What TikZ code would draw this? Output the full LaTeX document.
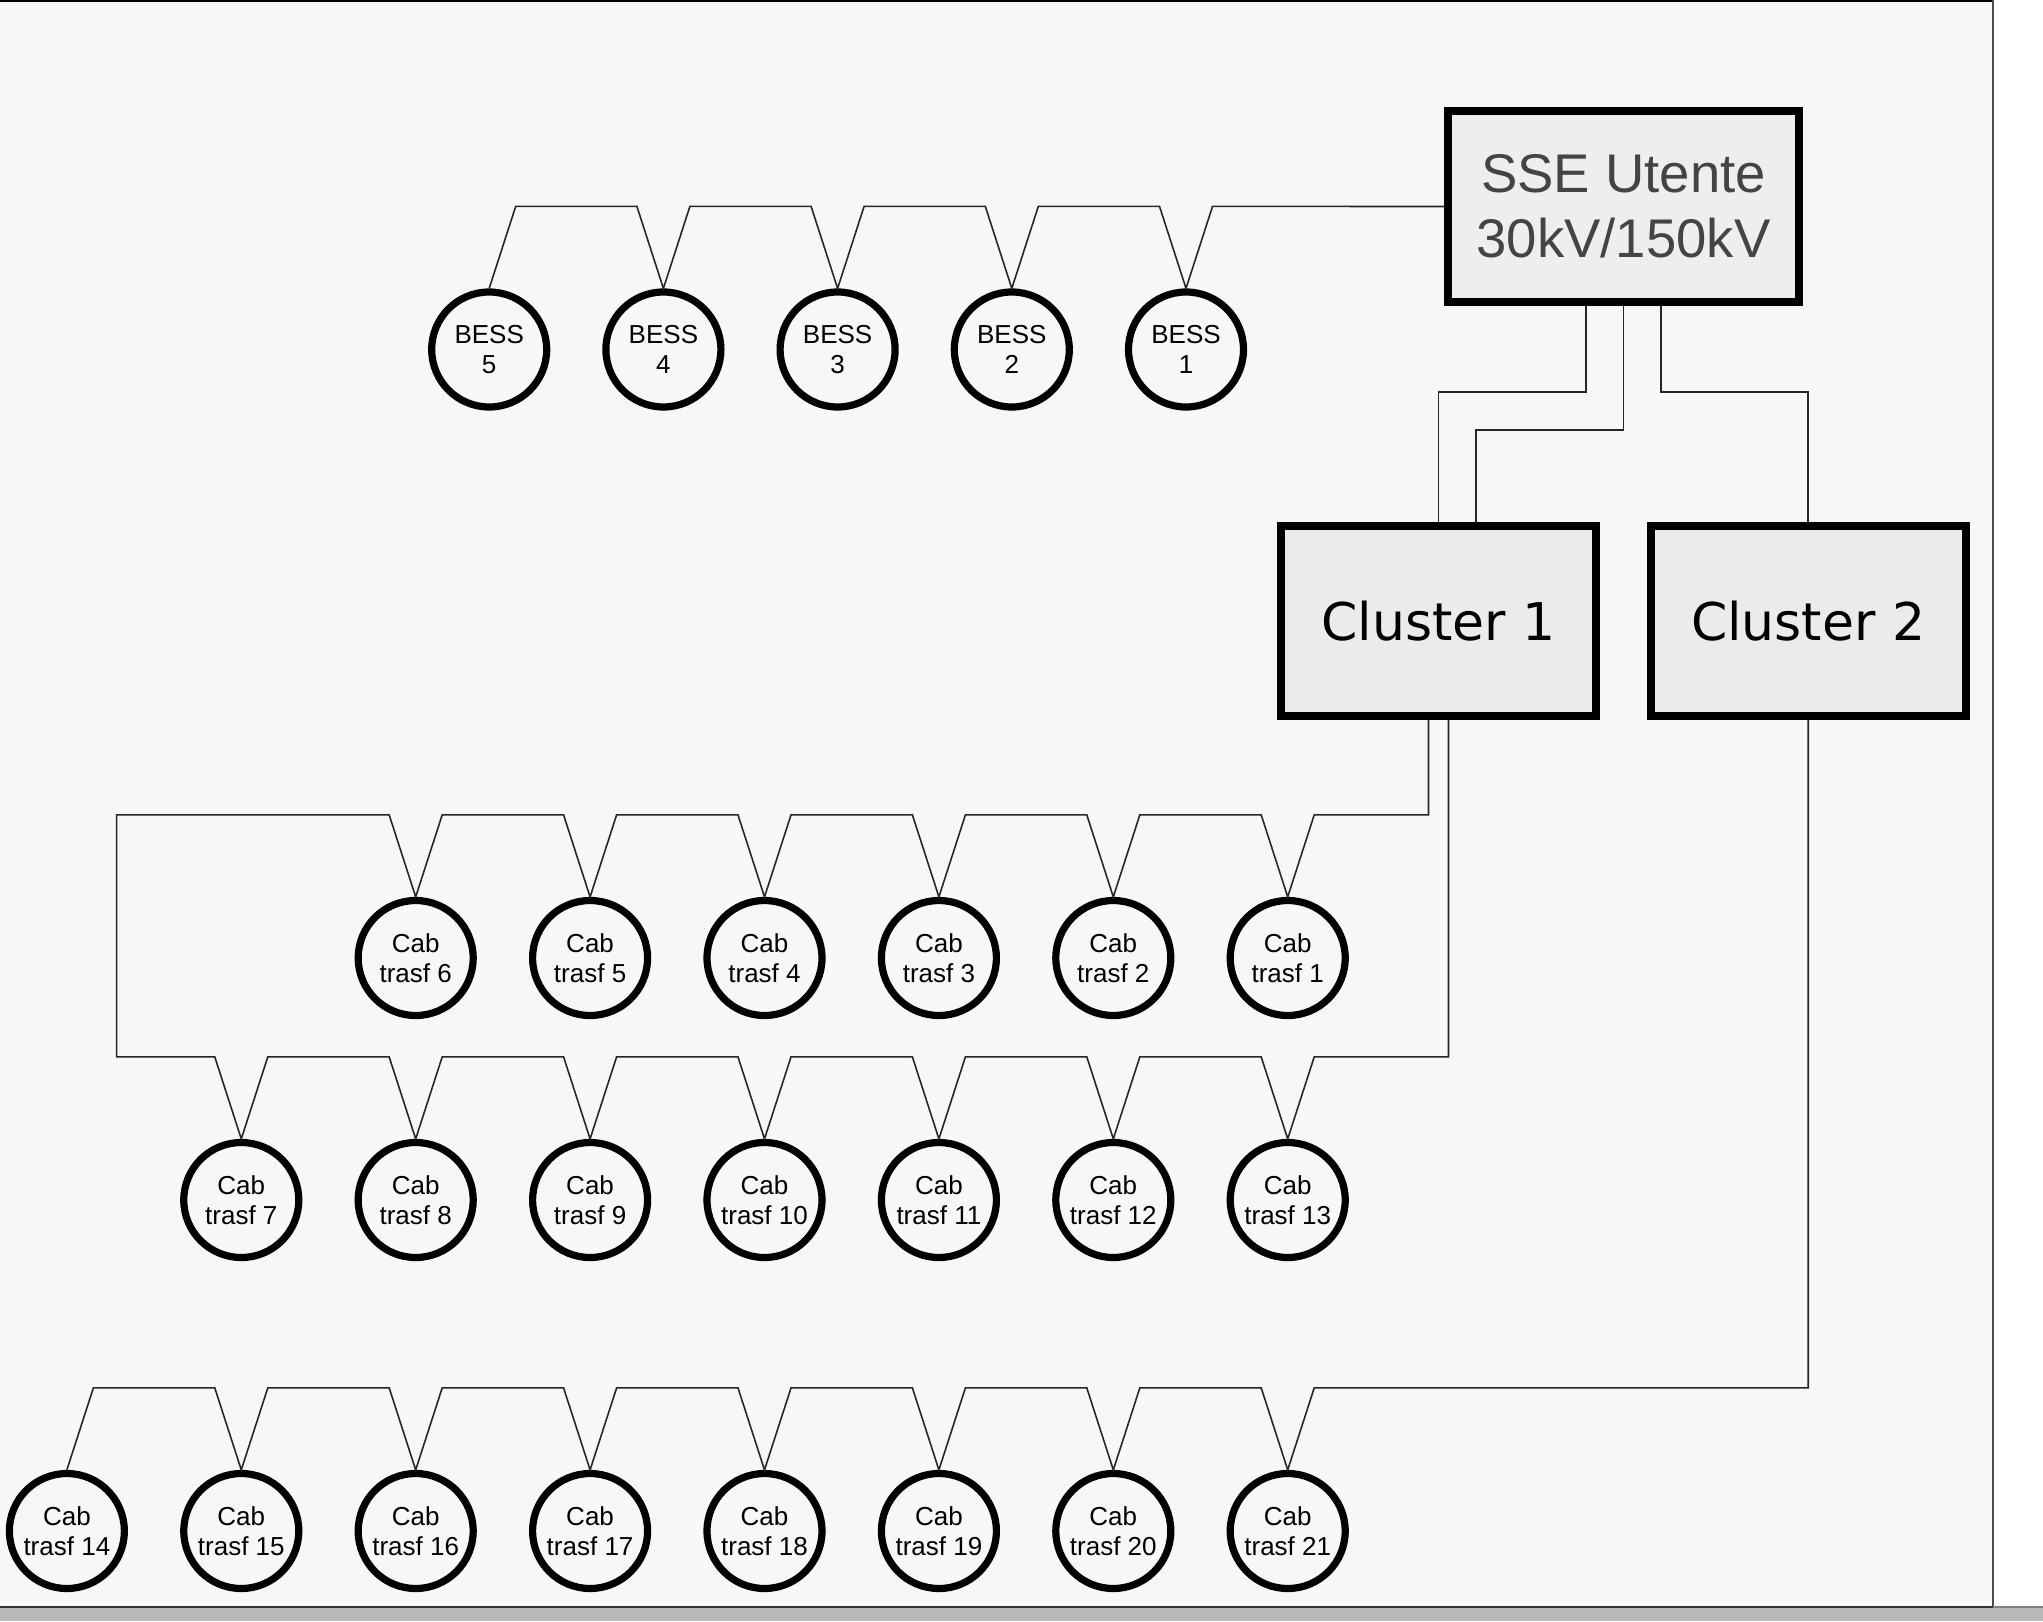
\documentclass[tikz,border=0pt]{standalone}
\usepackage{fontspec}
\setmainfont{Liberation Sans}
\newfontfamily\clusterfont{DejaVu Sans}
\usepackage{tikz}
\usetikzlibrary{positioning,calc}
\definecolor{sheet}{HTML}{F7F7F7}
\definecolor{band}{HTML}{B8B8B8}
\definecolor{ssefill}{HTML}{EEEEEE}
\definecolor{ssetext}{HTML}{444444}
\definecolor{clfill}{HTML}{EBEBEB}

\begin{document}
\begin{tikzpicture}[
		x=0.1mm, y=-0.1mm,
		station/.style={draw, line width=2.2pt, fill=ssefill, align=center, text=ssetext, minimum width=35.1mm, minimum height=19.1mm, font=\fontsize{15.5}{18.5}\selectfont},
		cluster/.style={draw, line width=2.2pt, fill=clfill, minimum width=31.5mm, minimum height=19mm, font=\clusterfont\fontsize{14.8}{18}\selectfont},
		unit/.style={circle, draw, line width=2.05pt, align=center, minimum size=11.5mm, inner sep=0pt, font=\fontsize{7.4}{8.5}\selectfont},
		wire/.style={draw=black!85, line width=0.45pt}
	]
		% sheet
		\useasboundingbox (0,0) rectangle (2043,1621);
		\fill[sheet] (0,0) rectangle (1993,1607);
		\fill[band] (0,1607) rectangle (2043,1621);
		\draw[line width=0.6pt] (0,1) -- (1993,1);
		\draw[black!70, line width=0.8pt] (1993,0) -- (1993,1607);
		\draw[black!80, line width=0.8pt] (0,1607) -- (1993,1607);
		\draw[black!50, line width=0.6pt] (1993,1607) -- (2043,1607);

		% substation and clusters
		\node[station] (sse) at (1623.5,206.5) {SSE Utente\\30kV/150kV};
		\node[cluster] (cl1) at (1438.5,621) {Cluster 1};
		\node[cluster, right=4.7mm of cl1] (cl2) {Cluster 2};

		% storage
		\node[unit] (b1) at (1186,349.5) {BESS\\1};
		\node[unit, left=5.2mm of b1] (b2) {BESS\\2};
		\node[unit, left=5.2mm of b2] (b3) {BESS\\3};
		\node[unit, left=5.2mm of b3] (b4) {BESS\\4};
		\node[unit, left=5.2mm of b4] (b5) {BESS\\5};

		% cabine, first row
		\node[unit] (c1) at (1287.7,958) {Cab\\trasf 1};
		\node[unit, left=5.22mm of c1] (c2) {Cab\\trasf 2};
		\node[unit, left=5.22mm of c2] (c3) {Cab\\trasf 3};
		\node[unit, left=5.22mm of c3] (c4) {Cab\\trasf 4};
		\node[unit, left=5.22mm of c4] (c5) {Cab\\trasf 5};
		\node[unit, left=5.22mm of c5] (c6) {Cab\\trasf 6};

		% cabine, second row
		\node[unit] (c13) at (1287.7,1200) {Cab\\trasf 13};
		\node[unit, left=5.22mm of c13] (c12) {Cab\\trasf 12};
		\node[unit, left=5.22mm of c12] (c11) {Cab\\trasf 11};
		\node[unit, left=5.22mm of c11] (c10) {Cab\\trasf 10};
		\node[unit, left=5.22mm of c10] (c9) {Cab\\trasf 9};
		\node[unit, left=5.22mm of c9] (c8) {Cab\\trasf 8};
		\node[unit, left=5.22mm of c8] (c7) {Cab\\trasf 7};

		% cabine, third row
		\node[unit] (c21) at (1287.7,1531) {Cab\\trasf 21};
		\node[unit, left=5.22mm of c21] (c20) {Cab\\trasf 20};
		\node[unit, left=5.22mm of c20] (c19) {Cab\\trasf 19};
		\node[unit, left=5.22mm of c19] (c18) {Cab\\trasf 18};
		\node[unit, left=5.22mm of c18] (c17) {Cab\\trasf 17};
		\node[unit, left=5.22mm of c17] (c16) {Cab\\trasf 16};
		\node[unit, left=5.22mm of c16] (c15) {Cab\\trasf 15};
		\node[unit, left=5.22mm of c15] (c14) {Cab\\trasf 14};

		% sse -> clusters
		\draw[wire] ([xshift=-3.75mm]sse.south) -- ++(0,86) -| (cl1.north);
		\draw[wire] (sse.south) -- ++(0,124) -| ([xshift=3.75mm]cl1.north);
		\draw[wire] ([xshift=3.75mm]sse.south) -- ++(0,86) -| (cl2.north);

		% sse -> bess chain
		\draw[wire] (sse.west) -- ($(b1.north)+(26.5,-82)$) -- (b1.north) -- ++(-26.5,-82)
			-- ($(b2.north)+(26.5,-82)$) -- (b2.north) -- ++(-26.5,-82)
			-- ($(b3.north)+(26.5,-82)$) -- (b3.north) -- ++(-26.5,-82)
			-- ($(b4.north)+(26.5,-82)$) -- (b4.north) -- ++(-26.5,-82)
			-- ($(b5.north)+(26.5,-82)$) -- (b5.north);

		% cluster 1 ring
		\draw[wire] ([xshift=-1mm]cl1.south) |- ($(c1.north)+(26.5,-82)$) -- (c1.north) -- ++(-26.5,-82)
			-- ($(c2.north)+(26.5,-82)$) -- (c2.north) -- ++(-26.5,-82)
			-- ($(c3.north)+(26.5,-82)$) -- (c3.north) -- ++(-26.5,-82)
			-- ($(c4.north)+(26.5,-82)$) -- (c4.north) -- ++(-26.5,-82)
			-- ($(c5.north)+(26.5,-82)$) -- (c5.north) -- ++(-26.5,-82)
			-- ($(c6.north)+(26.5,-82)$) -- (c6.north) -- ++(-26.5,-82)
			-- ++(-272.5,0) |- ($(c7.north)+(-26.5,-82)$) -- (c7.north) -- ++(26.5,-82)
			-- ($(c8.north)+(-26.5,-82)$) -- (c8.north) -- ++(26.5,-82)
			-- ($(c9.north)+(-26.5,-82)$) -- (c9.north) -- ++(26.5,-82)
			-- ($(c10.north)+(-26.5,-82)$) -- (c10.north) -- ++(26.5,-82)
			-- ($(c11.north)+(-26.5,-82)$) -- (c11.north) -- ++(26.5,-82)
			-- ($(c12.north)+(-26.5,-82)$) -- (c12.north) -- ++(26.5,-82)
			-- ($(c13.north)+(-26.5,-82)$) -- (c13.north) -- ++(26.5,-82)
			-| ([xshift=1mm]cl1.south);

		% cluster 2 chain
		\draw[wire] (cl2.south) |- ($(c21.north)+(26.5,-82)$) -- (c21.north) -- ++(-26.5,-82)
			-- ($(c20.north)+(26.5,-82)$) -- (c20.north) -- ++(-26.5,-82)
			-- ($(c19.north)+(26.5,-82)$) -- (c19.north) -- ++(-26.5,-82)
			-- ($(c18.north)+(26.5,-82)$) -- (c18.north) -- ++(-26.5,-82)
			-- ($(c17.north)+(26.5,-82)$) -- (c17.north) -- ++(-26.5,-82)
			-- ($(c16.north)+(26.5,-82)$) -- (c16.north) -- ++(-26.5,-82)
			-- ($(c15.north)+(26.5,-82)$) -- (c15.north) -- ++(-26.5,-82)
			-- ($(c14.north)+(26.5,-82)$) -- (c14.north);
	\end{tikzpicture}
\end{document}
